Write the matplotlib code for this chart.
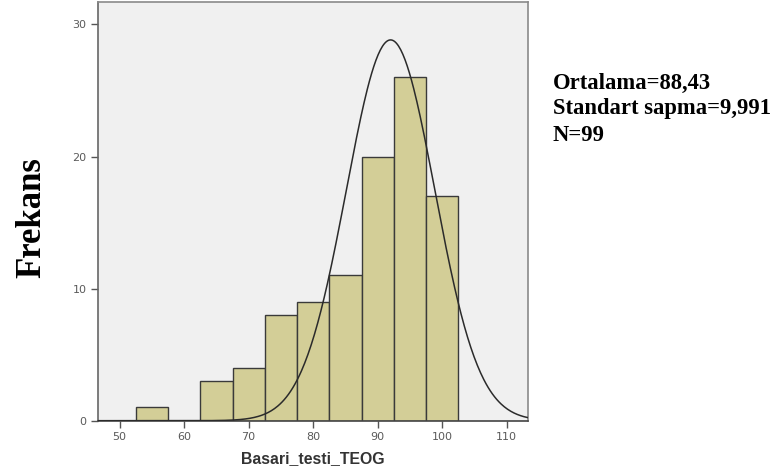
import numpy as np
import matplotlib
matplotlib.use("Agg")
import matplotlib.pyplot as plt

# histogram of the TEOG success test scores (bin width 5)
bin_edges = [52.5, 57.5, 62.5, 67.5, 72.5, 77.5, 82.5, 87.5, 92.5, 97.5, 102.5]
counts = [1, 0, 3, 4, 8, 9, 11, 20, 26, 17]
x_ticks = [50, 60, 70, 80, 90, 100, 110]
y_ticks = [0, 10, 20, 30]

# fitted normal curve as drawn
curve_mean = 92.0
curve_sd = 6.85
n_total = 99
stat_lines = ["Ortalama=88,43", "Standart sapma=9,991", "N=99"]

fig = plt.figure(figsize=(7.76, 4.73), dpi=100)
ax = fig.add_axes([0.1259, 0.1106, 0.5545, 0.8852])
ax.set_facecolor("#F0F0F0")

widths = np.diff(bin_edges)
ax.bar(bin_edges[:-1], counts, width=widths, align="edge",
       color="#D3CE97", edgecolor="#3a3a3a", linewidth=1.0, zorder=2)

xs = np.linspace(46.6, 113.3, 400)
bw = widths[0]
ys = n_total * bw / (curve_sd * np.sqrt(2 * np.pi)) * np.exp(-0.5 * ((xs - curve_mean) / curve_sd) ** 2)
ax.plot(xs, ys, color="#2b2b2b", linewidth=1.1, zorder=3)

ax.set_xlim(46.6, 113.3)
ax.set_ylim(0, 31.7)
ax.set_xticks(x_ticks)
ax.set_yticks(y_ticks)
ax.tick_params(direction="out", length=5, width=1, color="#555555",
               labelsize=8, labelcolor="#5a5a5a", pad=3)

for s in ax.spines.values():
    s.set_color("#8a8a8a")
    s.set_linewidth(1.2)
ax.spines["bottom"].set_color("#444444")
ax.spines["left"].set_color("#666666")

ax.set_xlabel("Basari_testi_TEOG", fontsize=11.4, fontweight="bold",
              family="Liberation Sans", color="#333333", labelpad=7)

fig.text(0.0406, 0.539, "Frekans", rotation=90, ha="center", va="center",
         fontsize=25, fontweight="bold", family="Liberation Serif", color="black")

for txt, yb in zip(stat_lines, [0.812, 0.759, 0.7025]):
    fig.text(0.712, yb, txt, ha="left", va="baseline", fontsize=16.3,
             fontweight="bold", family="Liberation Serif", color="black")

fig.savefig("out.png", dpi=100)
